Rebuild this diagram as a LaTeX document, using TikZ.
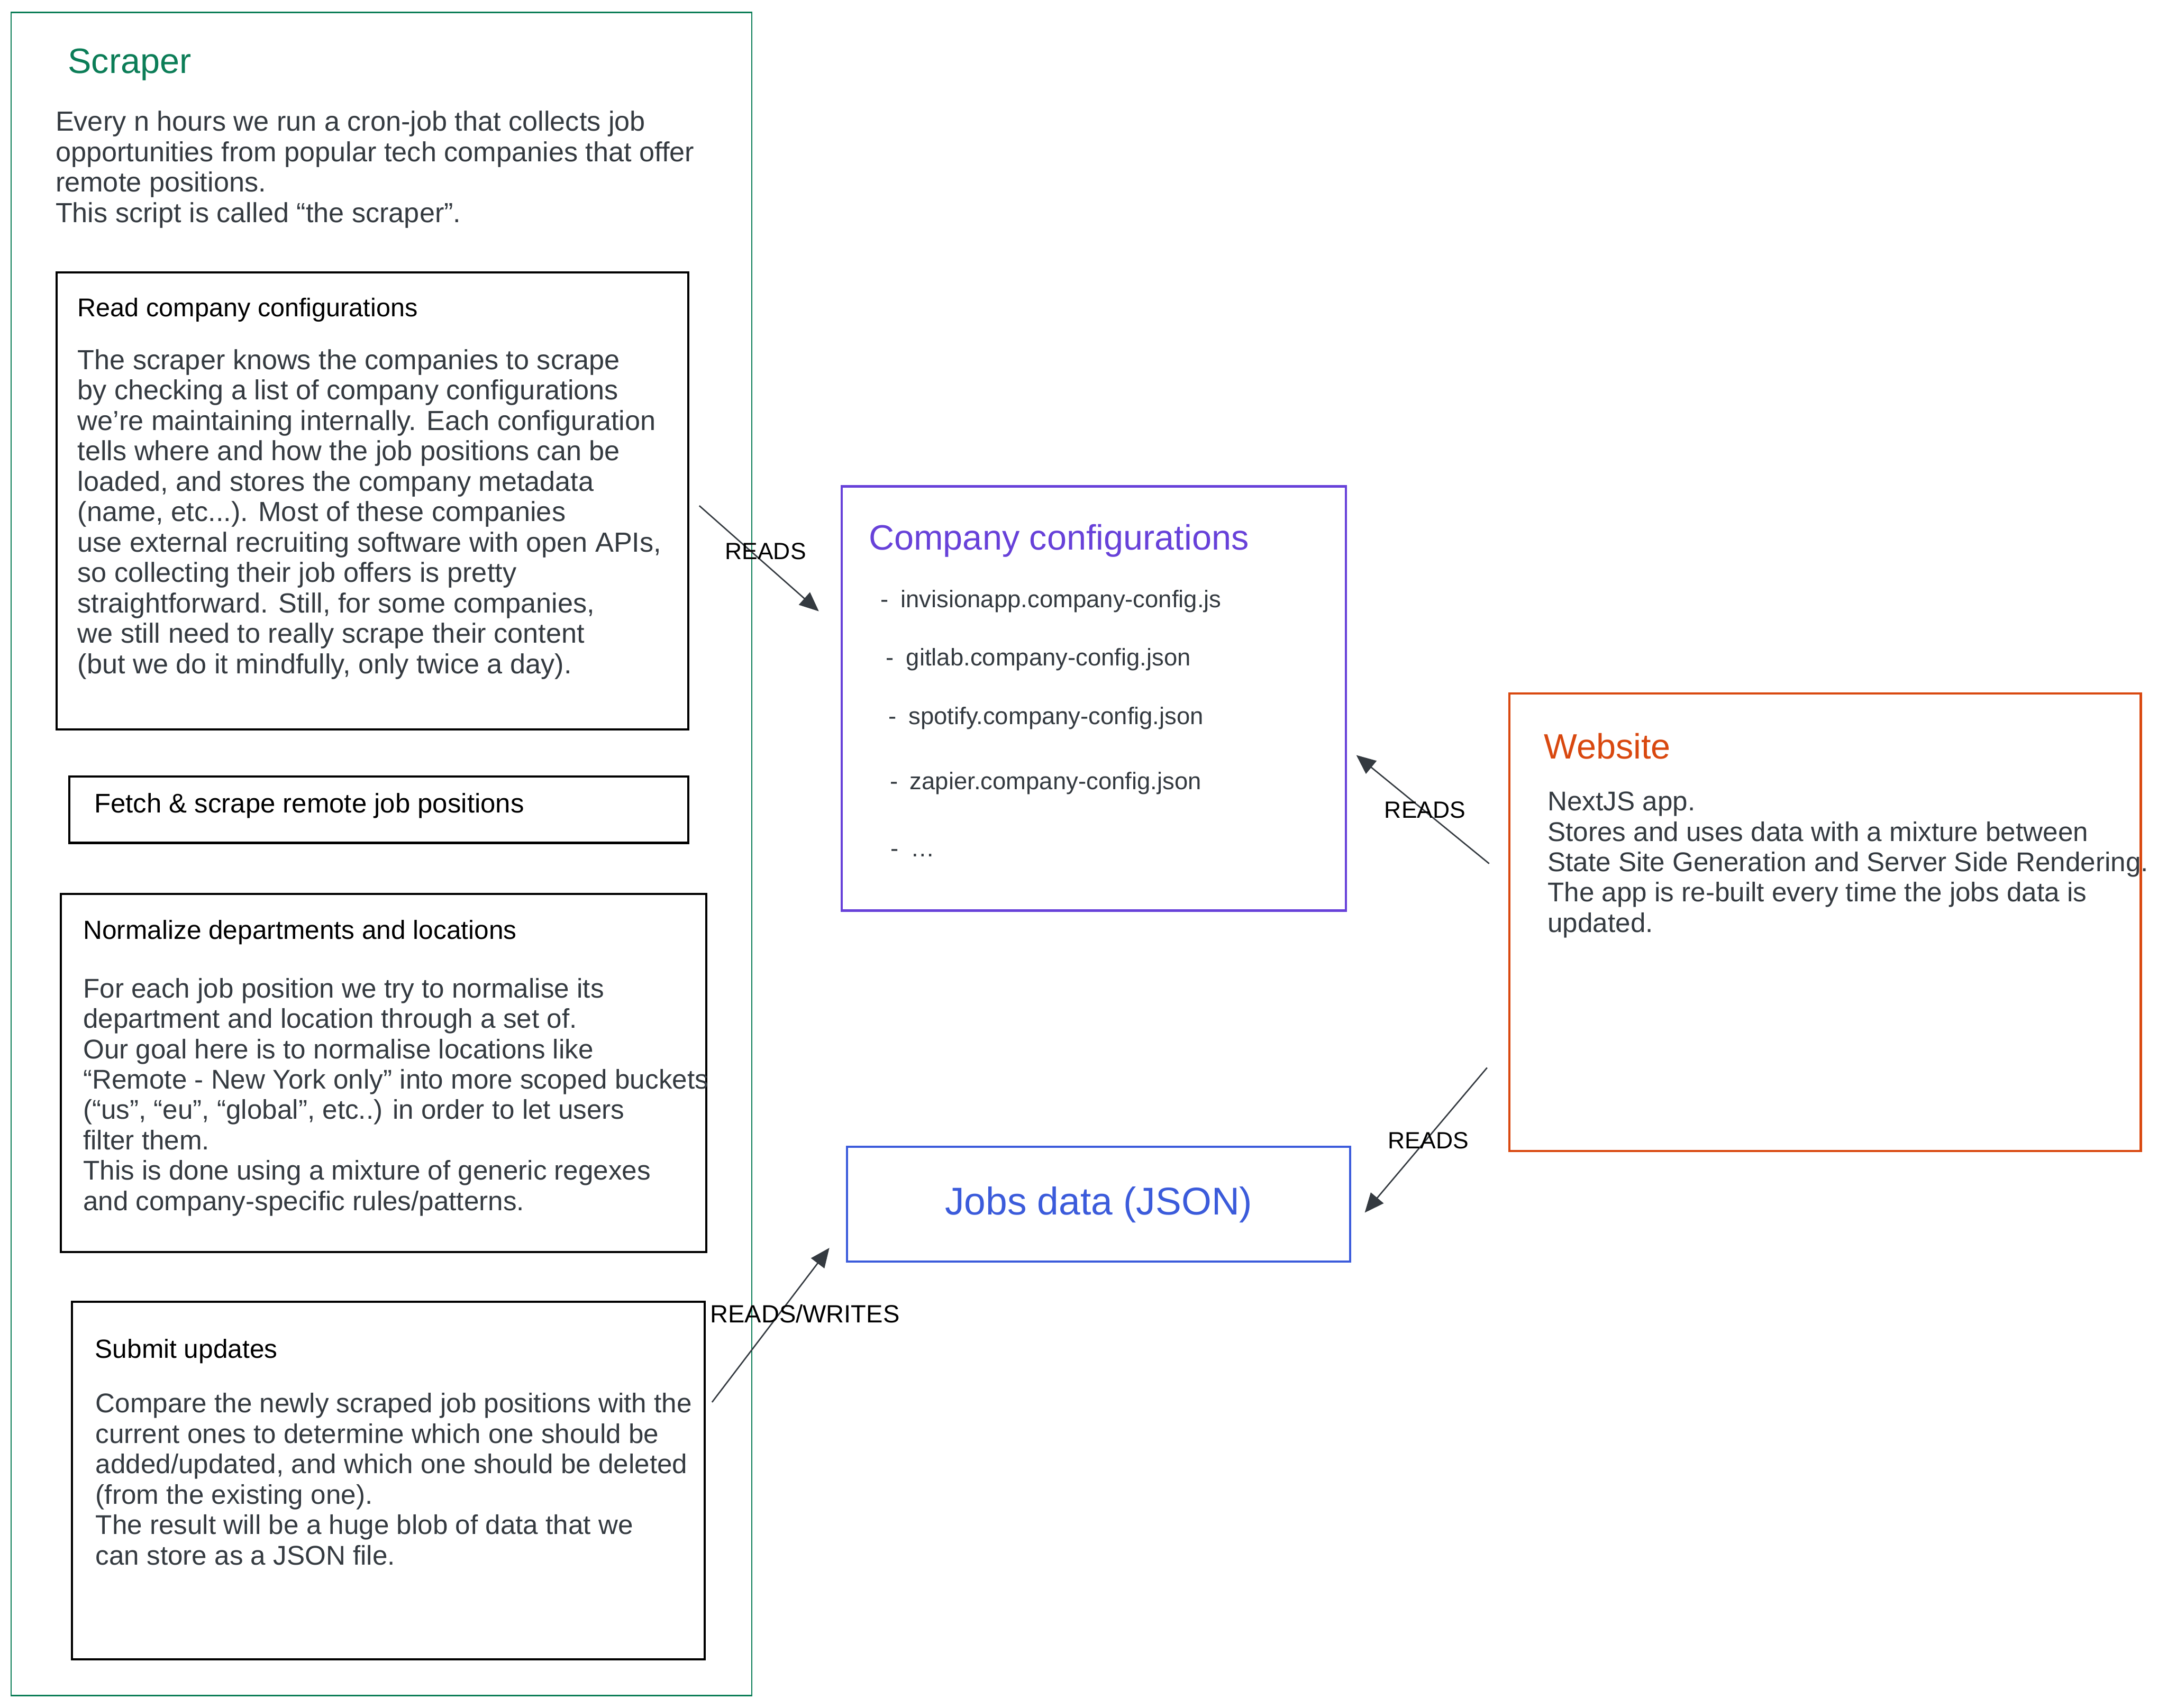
\documentclass[tikz,border=0pt]{standalone}
\usepackage{fontspec}
\setmainfont{Liberation Sans}
\usetikzlibrary{arrows.meta, fit}

\definecolor{scrgreen}{HTML}{0B7D57}
\definecolor{cfgviolet}{HTML}{6741D9}
\definecolor{webred}{HTML}{D9480F}
\definecolor{jobsblue}{HTML}{3B5BDB}
\definecolor{inkgray}{HTML}{343A40}

\begin{document}
\begin{tikzpicture}[x=1pt, y=-1pt,
  panel/.style={draw, inner sep=0pt, line width=1.6pt},
  heading/.style={anchor=base west, inner sep=0pt, font=\fontsize{25.5}{28}\selectfont},
  subhead/.style={anchor=base west, inner sep=0pt, font=\fontsize{19}{22}\selectfont},
  body/.style={anchor=north west, inner sep=0pt, align=left, text=inkgray, font=\fontsize{20}{22}\selectfont},
  item/.style={anchor=base west, inner sep=0pt, text=inkgray, font=\fontsize{17.4}{20}\selectfont},
  link/.style={draw=inkgray, line width=1pt, -{Triangle[length=14pt, width=12pt]}},
  lbl/.style={anchor=base west, inner sep=0pt, font=\fontsize{17}{20}\selectfont}]

  \path[fill=white, use as bounding box] (0,0) rectangle (1568,1236);

  % the scraper column
  \node[panel, draw=scrgreen, line width=1pt, fit={(8,9) (544,1227)}] (scraperbox) {};
  \node[heading, text=scrgreen] (scrapertitle) at (49,53) {Scraper};
  \node[body] (scrapertext) at (40,80.2) {Every n hours we run a cron-job that collects job\\
    opportunities from popular tech companies that offer\\
    remote positions.\\
    This script is called “the scraper”.};

  % step 1
  \node[panel, fit={(41,197) (498,528)}] (readbox) {};
  \node[subhead, font=\fontsize{18.6}{22}\selectfont] (readtitle) at (56,229) {Read company configurations};
  \node[body] (readtext) at (56,252.7) {The scraper knows the companies to scrape\\
    by checking a list of company configurations\\
    we're maintaining internally. Each configuration\\
    tells where and how the job positions can be\\
    loaded, and stores the company metadata\\
    (name, etc...). Most of these companies\\
    use external recruiting software with open APIs,\\
    so collecting their job offers is pretty\\
    straightforward. Still, for some companies,\\
    we still need to really scrape their content\\
    (but we do it mindfully, only twice a day).};

  % step 2
  \node[panel, fit={(50,562) (498,610)}] (fetchbox) {};
  \node[subhead, font=\fontsize{19.5}{22}\selectfont] (fetchtitle) at (68,588) {Fetch \& scrape remote job positions};

  % step 3
  \node[panel, fit={(44,647) (511,906)}] (normbox) {};
  \node[subhead] (normtitle) at (60,679.6) {Normalize departments and locations};
  \node[body, font=\fontsize{19.6}{22}\selectfont] (normtext) at (60,707.6) {For each job position we try to normalise its\\
    department and location through a set of.\\
    Our goal here is to normalise locations like\\
    “Remote - New York only” into more scoped buckets\\
    (“us”, “eu”, “global”, etc..) in order to let users\\
    filter them.\\
    This is done using a mixture of generic regexes\\
    and company-specific rules/patterns.};

  % step 4
  \node[panel, fit={(52,942) (510,1201)}] (submitbox) {};
  \node[subhead] (submittitle) at (68.6,983) {Submit updates};
  \node[body, font=\fontsize{19.6}{22}\selectfont] (submittext) at (69,1008) {Compare the newly scraped job positions with the\\
    current ones to determine which one should be\\
    added/updated, and which one should be deleted\\
    (from the existing one).\\
    The result will be a huge blob of data that we\\
    can store as a JSON file.};

  % company configurations
  \node[panel, draw=cfgviolet, fit={(609,352) (974,659)}] (configbox) {};
  \node[heading, text=cfgviolet] (configtitle) at (628.5,398) {Company configurations};
  \foreach \x/\y/\t [count=\i] in {637/439.6/invisionapp.company-config.js,
      641/481.6/gitlab.company-config.json, 642.8/524.2/spotify.company-config.json,
      643.7/571.3/zapier.company-config.json, 644.3/619.9/{\ldots}}
    \node[item] (cfg\i) at (\x,\y) {-\enspace\t};

  % website
  \node[panel, draw=webred, fit={(1092,502) (1549,833)}] (websitebox) {};
  \node[heading, text=webred] (websitetitle) at (1117,549) {Website};
  \node[body, font=\fontsize{19.6}{22}\selectfont] (websitetext) at (1119.7,572.8) {NextJS app.\\
    Stores and uses data with a mixture between\\
    State Site Generation and Server Side Rendering.\\
    The app is re-built every time the jobs data is\\
    updated.};

  % jobs data
  \node[panel, draw=jobsblue, fit={(613,830) (977,913)}] (jobsbox) {};
  \node[anchor=base, inner sep=0pt, text=jobsblue, font=\fontsize{28}{30}\selectfont] (jobstitle) at (795,879) {Jobs data (JSON)};

  % connectors
  \coordinate (readsAfrom) at (506,366);
  \coordinate (readsAto) at (592.5,442.4);
  \coordinate (readsBfrom) at (1077.5,625);
  \coordinate (readsBto) at (981.4,546.5);
  \coordinate (readsCfrom) at (1076,772.7);
  \coordinate (readsCto) at (987.5,877.6);
  \coordinate (rwfrom) at (515.2,1014.8);
  \coordinate (rwto) at (600.1,903.1);
  \draw[link] (readsAfrom) -- (readsAto);
  \draw[link] (readsBfrom) -- (readsBto);
  \draw[link] (readsCfrom) -- (readsCto);
  \draw[link] (rwfrom) -- (rwto);
  \node[lbl] (readsAlbl) at (524.5,405) {READS};
  \node[lbl] (readsBlbl) at (1001.6,592) {READS};
  \node[lbl] (readsClbl) at (1004,831.3) {READS};
  \node[lbl, font=\fontsize{18}{20}\selectfont] (rwlbl) at (513.7,957.3) {READS/WRITES};
\end{tikzpicture}
\end{document}
